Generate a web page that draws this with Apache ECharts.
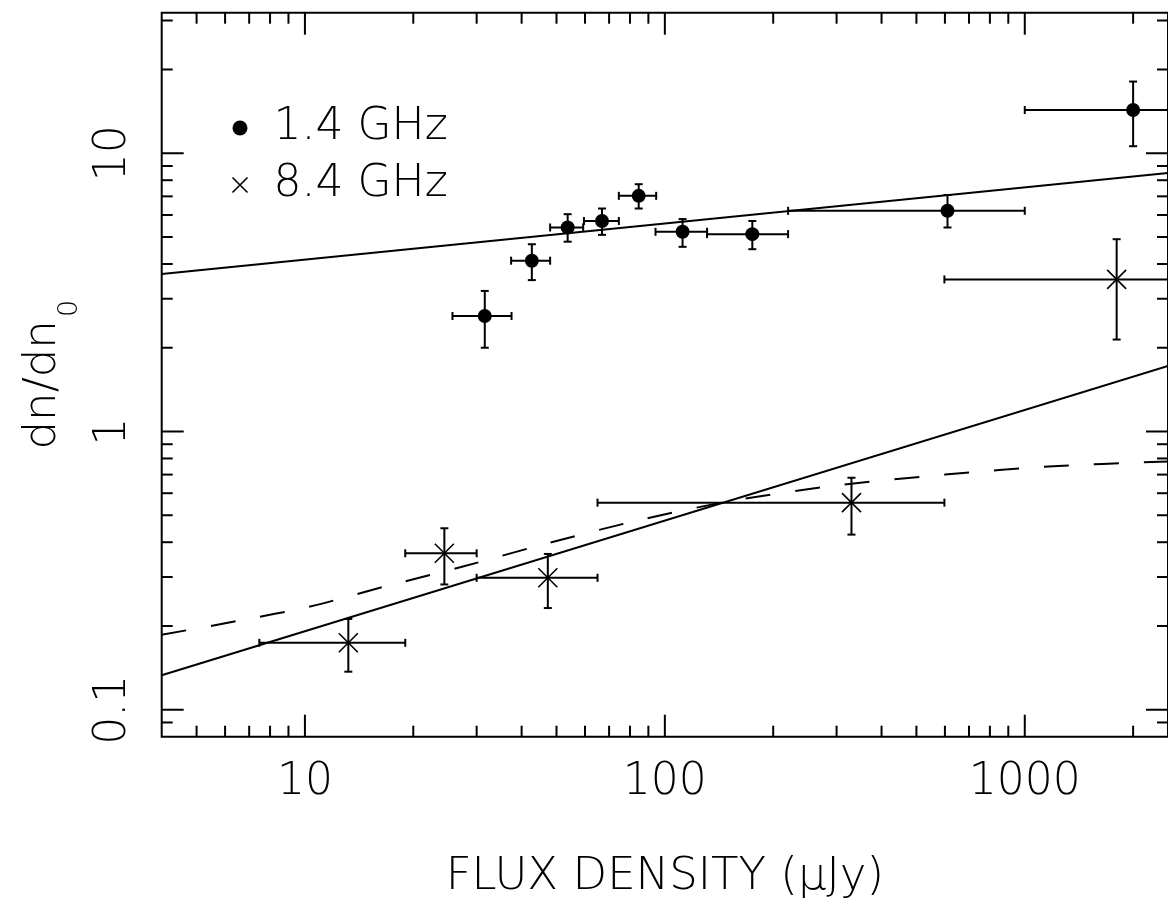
<!DOCTYPE html>
<html><head><meta charset="utf-8">
<script src="https://cdn.jsdelivr.net/npm/echarts@6/dist/echarts.min.js"></script>
<style>html,body{margin:0;padding:0;background:#fff}#c{width:1168px;height:913px}</style>
</head><body><div id="c"></div>
<script>
// ---------- data ----------
// 1.4 GHz points
const flux14     = [31.6, 42.7, 53.7, 66.9, 84.6, 112, 175, 610, 2000];
const ratio14    = [2.60, 4.11, 5.41, 5.71, 7.03, 5.22, 5.12, 6.21, 14.3];
const fluxLo14   = [25.7, 37.4, 48.0, 59.6, 74.5, 94.2, 131, 220, 1000];
const fluxHi14   = [37.5, 48.0, 59.3, 74.5, 94.6, 131, 220, 1000, 4000];
const ratioLo14  = [2.00, 3.50, 4.81, 5.09, 6.33, 4.61, 4.52, 5.41, 10.6];
const ratioHi14  = [3.20, 4.71, 6.04, 6.33, 7.74, 5.80, 5.71, 7.08, 18.1];
// 8.4 GHz points
const flux84     = [13.2, 24.4, 47.3, 330, 1800];
const ratio84    = [0.174, 0.365, 0.298, 0.555, 3.52];
const fluxLo84   = [7.47, 19.0, 30.0, 65.0, 598];
const fluxHi84   = [19.0, 30.0, 65.0, 598, 4000];
const ratioLo84  = [0.137, 0.282, 0.232, 0.426, 2.14];
const ratioHi84  = [0.212, 0.449, 0.363, 0.682, 4.91];
// fitted lines
const fit14Flux  = [4, 2500];
const fit14Ratio = [3.68, 8.49];
const fit84Flux  = [4, 2500];
const fit84Ratio = [0.133, 1.72];
const dashFlux   = [4, 6.44, 10.4, 16.8, 27, 43.1, 81.5, 150, 300, 600, 1200, 2500];
const dashRatio  = [0.186, 0.208, 0.2355, 0.278, 0.325, 0.384, 0.4745, 0.56, 0.64, 0.70, 0.75, 0.78];
// axes
const xMin = 4, xMax = 2500, yMin = 0.08, yMax = 32;
const xMajorTicks = [10, 100, 1000];
const xMinorTicks = [5,6,7,8,9,20,30,40,50,60,70,80,90,200,300,400,500,600,700,800,900,2000];
const yMajorTicks = [0.1, 1, 10];
const yMinorTicks = [0.09,0.2,0.3,0.4,0.5,0.6,0.7,0.8,0.9,2,3,4,5,6,7,8,9,20,30];
const legendNames = ['1.4 GHz', '8.4 GHz'];
const xTitle = 'FLUX DENSITY (\u03bcJy)';

// ---------- chart ----------
const FONT = '"DejaVu Sans", sans-serif';
const FW = 200;
const MAJ = 22, MIN = 11;
const CROSS = 'path://M0,0L10,10M10,0L0,10';

function zip(...arrs) { return arrs[0].map((_, i) => arrs.map(a => a[i])); }

function errItem(params, api) {
  const x = api.value(0), y = api.value(1);
  const c = api.coord([x, y]);
  const xl = api.coord([api.value(2), y])[0];
  const xh = api.coord([api.value(3), y])[0];
  const yl = api.coord([x, api.value(4)])[1];
  const yh = api.coord([x, api.value(5)])[1];
  const cap = 4;
  const st = { stroke: '#000', lineWidth: 2 };
  return { type: 'group', children: [
    { type: 'line', shape: { x1: xl, y1: c[1], x2: xh, y2: c[1] }, style: st },
    { type: 'line', shape: { x1: c[0], y1: yl, x2: c[0], y2: yh }, style: st },
    { type: 'line', shape: { x1: xl, y1: c[1] - cap, x2: xl, y2: c[1] + cap }, style: st },
    { type: 'line', shape: { x1: xh, y1: c[1] - cap, x2: xh, y2: c[1] + cap }, style: st },
    { type: 'line', shape: { x1: c[0] - cap, y1: yl, x2: c[0] + cap, y2: yl }, style: st },
    { type: 'line', shape: { x1: c[0] - cap, y1: yh, x2: c[0] + cap, y2: yh }, style: st }
  ]};
}
function xTickItem(params, api) {
  const v = api.value(0), len = api.value(1) > 15 ? MAJ : MIN;
  const b = api.coord([v, yMin]), t = api.coord([v, yMax]);
  const st = { stroke: '#000', lineWidth: 2 };
  return { type: 'group', children: [
    { type: 'line', shape: { x1: b[0], y1: b[1], x2: b[0], y2: b[1] - len }, style: st },
    { type: 'line', shape: { x1: t[0], y1: t[1], x2: t[0], y2: t[1] + len }, style: st }
  ]};
}
function yTickItem(params, api) {
  const v = api.value(1), len = api.value(0) > 15 ? MAJ : MIN;
  const l = api.coord([xMin, v]), r = api.coord([xMax, v]);
  const st = { stroke: '#000', lineWidth: 2 };
  return { type: 'group', children: [
    { type: 'line', shape: { x1: l[0], y1: l[1], x2: l[0] + len, y2: l[1] }, style: st },
    { type: 'line', shape: { x1: r[0], y1: r[1], x2: r[0] - len, y2: r[1] }, style: st }
  ]};
}
const numFmt = v => String(+(+v).toPrecision(6));

const option = {
  animation: false,
  backgroundColor: '#fff',
  grid: { left: 161.7, top: 12.7, width: 1010.3, height: 724, show: true,
          borderColor: '#000', borderWidth: 2, backgroundColor: 'transparent' },
  legend: {
    left: 225, top: 101, orient: 'vertical', itemWidth: 15, itemHeight: 15, itemGap: 13,
    selectedMode: false,
    textStyle: { fontFamily: FONT, fontWeight: FW, fontSize: 44, lineHeight: 44, color: '#000', padding: [0, 0, 0, 21] },
    data: [
      { name: legendNames[0], icon: 'circle', itemStyle: { color: '#000', opacity: 1 } },
      { name: legendNames[1], icon: CROSS, itemStyle: { color: 'none', borderColor: '#000', borderWidth: 1.6, opacity: 1 } }
    ]
  },
  xAxis: {
    type: 'log', logBase: 10, min: xMin, max: xMax,
    axisLine: { show: false }, axisTick: { show: false }, splitLine: { show: false },
    axisLabel: { showMinLabel: false, showMaxLabel: false, formatter: numFmt, margin: 24,
                 fontFamily: FONT, fontWeight: FW, fontSize: 44, color: '#000' },
    name: xTitle, nameLocation: 'middle', nameGap: 118,
    nameTextStyle: { fontFamily: FONT, fontWeight: FW, fontSize: 45, color: '#000' }
  },
  yAxis: {
    type: 'log', logBase: 10, min: yMin, max: yMax,
    axisLine: { show: false }, axisTick: { show: false }, splitLine: { show: false },
    axisLabel: { showMinLabel: false, showMaxLabel: false, formatter: numFmt, margin: 26, rotate: 90,
                 fontFamily: FONT, fontWeight: FW, fontSize: 44, color: '#000' },
    name: 'dn/dn{s|0}', nameLocation: 'middle', nameGap: 92,
    nameTextStyle: { fontFamily: FONT, fontWeight: FW, fontSize: 45, color: '#000',
      rich: { s: { fontFamily: FONT, fontWeight: FW, fontSize: 27, lineHeight: 27, padding: [36, 0, 0, 3], verticalAlign: 'top', color: '#000' } } }
  },
  series: [
    { type: 'custom', name: 'xticks', renderItem: xTickItem, clip: false, silent: true,
      data: xMajorTicks.map(v => [v, 20]).concat(xMinorTicks.map(v => [v, 10])), encode: { x: 0, y: 1 } },
    { type: 'custom', name: 'yticks', renderItem: yTickItem, clip: false, silent: true,
      data: yMajorTicks.map(v => [20, v]).concat(yMinorTicks.map(v => [10, v])), encode: { x: 0, y: 1 } },
    { type: 'line', name: 'fit14', data: zip(fit14Flux, fit14Ratio), symbol: 'none',
      lineStyle: { color: '#000', width: 2 } },
    { type: 'line', name: 'fit84', data: zip(fit84Flux, fit84Ratio), symbol: 'none',
      lineStyle: { color: '#000', width: 2 } },
    { type: 'line', name: 'dash84', data: zip(dashFlux, dashRatio), symbol: 'none', smooth: 0.3,
      lineStyle: { color: '#000', width: 2, type: [25, 25] } },
    { type: 'custom', name: 'err14', renderItem: errItem, clip: false,
      data: zip(flux14, ratio14, fluxLo14, fluxHi14, ratioLo14, ratioHi14), encode: { x: 0, y: 1 } },
    { type: 'custom', name: 'err84', renderItem: errItem, clip: false,
      data: zip(flux84, ratio84, fluxLo84, fluxHi84, ratioLo84, ratioHi84), encode: { x: 0, y: 1 } },
    { type: 'scatter', name: legendNames[0], data: zip(flux14, ratio14), symbol: 'circle', symbolSize: 14,
      itemStyle: { color: '#000', opacity: 1 }, z: 5 },
    { type: 'scatter', name: legendNames[1], data: zip(flux84, ratio84), symbol: CROSS, symbolSize: 19,
      itemStyle: { color: 'none', borderColor: '#000', borderWidth: 1.6, opacity: 1 }, z: 5 }
  ]
};
const chart = echarts.init(document.getElementById('c'), null, { renderer: 'canvas' });
chart.setOption(option);
</script></body></html>
